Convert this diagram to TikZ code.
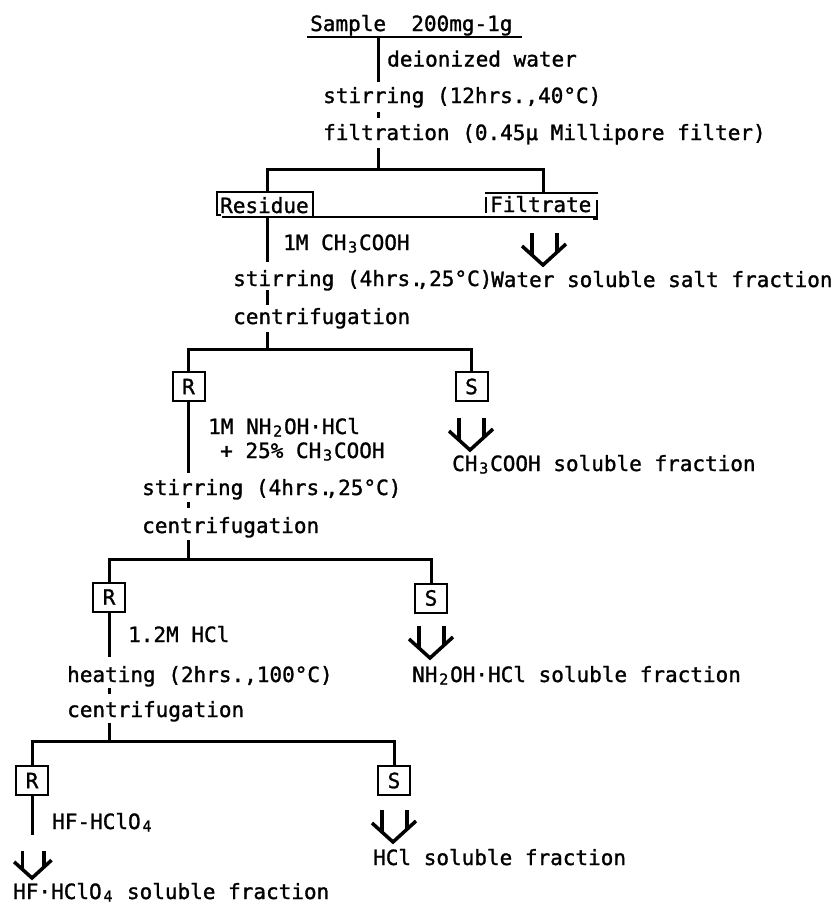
\documentclass[tikz,border=0pt]{standalone}
\usepackage{fontspec}
\newfontfamily\twfont[FakeBold=1.3]{DejaVu Sans Mono}
\newcommand\subd[1]{\makebox[0.602em][c]{\raisebox{-0.12em}{\fontsize{15}{15}\selectfont #1}}}
\begin{document}
\begin{tikzpicture}[x=1pt,y=-1pt,
  txt/.style={inner sep=0pt, anchor=base west, font=\twfont\fontsize{21}{25}\selectfont},
  flow/.style={line width=3pt, line join=miter},
  boxl/.style={line width=2pt},
  rsbox/.style={draw, line width=2pt, minimum width=32pt, minimum height=29pt, inner sep=0pt, font=\twfont\fontsize{21}{25}\selectfont},
  dbl/.pic={
    \draw[line width=3.5pt, line join=miter] (-21,-19) -- (0,0) -- (23,-21);
    \draw[line width=3.5pt] (-11,-32) -- (-11,-10);
    \draw[line width=3.5pt] (14,-32) -- (14,-13);
  }
]
\useasboundingbox (0,0) rectangle (839,905);

% ---------- texts ----------
\node[txt] (t0)  at (310,31)  {Sample\ \ 200mg-1g};
\node[txt] (t1)  at (387,66.5){deionized water};
\node[txt] (t2)  at (323,103) {stirring (12hrs.,40°C)};
\node[txt] (t3)  at (323,140) {filtration (0.45μ Millipore filter)};
\node[txt] (res) at (220,213) {Residue};
\node[txt] (fil) at (490,212) {Filtrate};
\node[txt] (t4)  at (283,250) {1M CH\subd{3}COOH};
\node[txt] (t5)  at (233,286) {stirring (4hrs.\kern-0.3em,25°C)};
\node[txt] (t6)  at (491,287) {Water soluble salt fraction};
\node[txt] (t7)  at (233,324) {centrifugation};
\node[txt] (t8)  at (208,434) {1M NH\subd{2}OH·HCl};
\node[txt] (t9)  at (220,458) {+ 25\% CH\subd{3}COOH};
\node[txt] (t10) at (452,471) {CH\subd{3}COOH soluble fraction};
\node[txt] (t11) at (142,495) {stirring (4hrs.\kern-0.3em,25°C)};
\node[txt] (t12) at (142,533) {centrifugation};
\node[txt] (t13) at (128,642) {1.2M HCl};
\node[txt] (t14) at (412,682) {NH\subd{2}OH·HCl soluble fraction};
\node[txt] (t15) at (67,682)  {heating (2hrs.,100°C)};
\node[txt] (t16) at (67,717)  {centrifugation};
\node[txt] (t17) at (52,829)  {HF-HClO\subd{4}};
\node[txt] (t18) at (13,899)  {HF·HClO\subd{4} soluble fraction};
\node[txt] (t19) at (373,865) {HCl soluble fraction};

% ---------- R / S boxes ----------
\node[rsbox] (R1) at (188.5,386.5) {R};
\node[rsbox] (S1) at (471.5,386.5) {S};
\node[rsbox] (R2) at (109,597)     {R};
\node[rsbox] (S2) at (431,598)     {S};
\node[rsbox] (R3) at (32,780.5)    {R};
\node[rsbox] (S3) at (394,780.5)   {S};

% ---------- Residue / Filtrate frames ----------
\draw[boxl] (221,215) -- (217,215) -- (217,192) -- (313,192) -- (313,217);
\draw[boxl] (222,217) -- (598,217);
\draw[boxl] (485,193) -- (598,193);
\draw[boxl] (486,197) -- (486,213);
\draw[boxl] (597,200) -- (597,219) -- (593,219);

% sample underline
\draw[line width=2.5pt] (307,37) -- (522,37);

% ---------- junction coordinates ----------
\coordinate (a0) at (378,37);
\coordinate (a1) at (378,82);
\coordinate (a2) at (378,112);
\coordinate (a3) at (378,118);
\coordinate (a4) at (378,148);
\coordinate (j1) at (378,169);
\coordinate (rt) at (267,192);
\coordinate (ft) at (543,193);

\coordinate (b0) at (267,218);
\coordinate (b1) at (267,262);
\coordinate (b2) at (267,290);
\coordinate (b3) at (267,305);
\coordinate (b4) at (267,332);
\coordinate (j2) at (267,349);

\coordinate (c1) at (188.5,473);
\coordinate (c2) at (188.5,502);
\coordinate (c3) at (188.5,508);
\coordinate (c4) at (188.5,540);
\coordinate (j3) at (188.5,559);

\coordinate (d1) at (109,657);
\coordinate (d2) at (109,688);
\coordinate (d3) at (109,694);
\coordinate (d4) at (109,723);
\coordinate (j4) at (109,741);

\coordinate (e1) at (32,835);

% ---------- connectors ----------
\draw[flow] (a0) -- (a1);
\draw[flow] (a2) -- (a3);
\draw[flow] (a4) -- (j1);
\draw[flow] (rt) |- (j1) -| (ft);

\draw[flow] (b0) -- (b1);
\draw[flow] (b2) -- (b3);
\draw[flow] (b4) -- (j2);
\draw[flow] (R1.north) |- (j2) -| (S1.north);

\draw[flow] (R1.south) -- (c1);
\draw[flow] (c2) -- (c3);
\draw[flow] (c4) -- (j3);
\draw[flow] (R2.north) |- (j3) -| (S2.north);

\draw[flow] (R2.south) -- (d1);
\draw[flow] (d2) -- (d3);
\draw[flow] (d4) -- (j4);
\draw[flow] (R3.north) |- (j4) -| (S3.north);

\draw[flow] (R3.south) -- (e1);

% ---------- double arrows ----------
\pic at (543,265) {dbl};
\pic at (470,450) {dbl};
\pic at (430,658) {dbl};
\pic at (393,842) {dbl};
\pic[scale=0.85] at (32,878) {dbl};
\end{tikzpicture}
\end{document}
